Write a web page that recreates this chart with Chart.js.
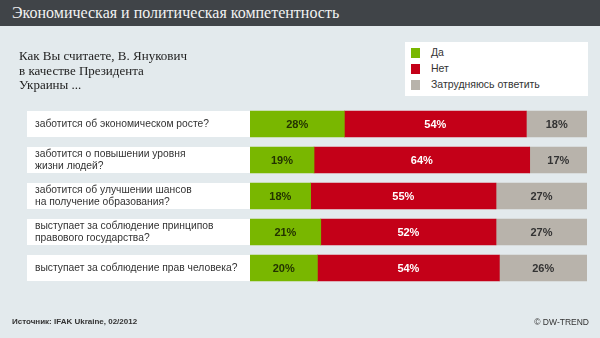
<!DOCTYPE html>
<html>
<head>
<meta charset="utf-8">
<script src="https://cdn.jsdelivr.net/npm/chart.js@4"></script>
<style>
    body { margin: 0; background: #e3eaed; }
    #wrap { position: relative; width: 600px; height: 338px; overflow: hidden; background: #e3eaed; }
    #header { position: absolute; left: 0; top: 0; width: 600px; height: 26px; background: #404448; }
    #title { position: absolute; left: 12px; top: 4px; font: 16px "Liberation Serif", serif; color: #f2f2f2; white-space: nowrap; }
    #question { position: absolute; left: 19px; top: 49px; font: 13px "Liberation Serif", serif; line-height: 14.5px; color: #222; }
    #legend { position: absolute; left: 405px; top: 42px; width: 183px; height: 54px; background: #fff; }
    .item { position: absolute; left: 6px; font: 10.5px "Liberation Sans", Arial, sans-serif; color: #333; }
    .item span { position: absolute; left: 0; top: 2px; width: 9px; height: 10px; }
    .item b { position: absolute; left: 20px; top: 0; font-weight: normal; white-space: nowrap; }
    #source { position: absolute; left: 12px; top: 317px; font: bold 8px "Liberation Sans", Arial, sans-serif; color: #333; }
    #copy { position: absolute; right: 11px; top: 317px; font: 8.5px "Liberation Sans", Arial, sans-serif; color: #333; }
    canvas { position: absolute; left: 0; top: 0; }
</style>
</head>
<body>
<div id="wrap">
    <canvas id="myChart" width="600" height="338"></canvas>
    <div id="header"><div id="title">Экономическая и политическая компетентность</div></div>
    <div id="question">Как Вы считаете, В. Янукович<br>в качестве Президента<br>Украины ...</div>
    <div id="legend"></div>
    <div id="source">Источник: IFAK Ukraine, 02/2012</div>
    <div id="copy">© DW-TREND</div>
</div>
<script>
const categories = [
    ['заботится об экономическом росте?'],
    ['заботится о повышении уровня', 'жизни людей?'],
    ['заботится об улучшении шансов', 'на получение образования?'],
    ['выступает за соблюдение принципов', 'правового государства?'],
    ['выступает за соблюдение прав человека?']
];
const seriesNames = ['Да', 'Нет', 'Затрудняюсь ответить'];
const yes = [28, 19, 18, 21, 20];
const no = [54, 64, 55, 52, 54];
const dontKnow = [18, 17, 27, 27, 26];

const colors = ['#79b700', '#c40018', '#b8b3ab'];
const valueColors = ['#233300', '#ffffff', '#333333'];

// legend in html
const legendBox = document.getElementById('legend');
seriesNames.forEach(function (name, i) {
    const item = document.createElement('div');
    item.className = 'item';
    item.style.top = (4 + i * 16) + 'px';
    item.innerHTML = '<span style="background:' + colors[i] + '"></span><b>' + name + '</b>';
    legendBox.appendChild(item);
});

const rowLabels = {
    id: 'rowLabels',
    beforeDatasetsDraw(chart) {
        const ctx = chart.ctx;
        const yScale = chart.scales.y;
        ctx.save();
        ctx.font = '10.3px "Liberation Sans", Arial, sans-serif';
        ctx.textBaseline = 'middle';
        categories.forEach(function (lines, i) {
            const y = yScale.getPixelForValue(i);
            ctx.fillStyle = '#ffffff';
            ctx.fillRect(27, y - 13, chart.chartArea.left - 27, 26);
            ctx.fillStyle = '#333333';
            const start = y - (lines.length - 1) * 6;
            lines.forEach(function (line, j) {
                ctx.fillText(line, 35, start + j * 12);
            });
        });
        ctx.restore();
    },
    afterDatasetsDraw(chart) {
        const ctx = chart.ctx;
        ctx.save();
        ctx.font = 'bold 11px "Liberation Sans", Arial, sans-serif';
        ctx.textAlign = 'center';
        ctx.textBaseline = 'middle';
        chart.data.datasets.forEach(function (ds, d) {
            chart.getDatasetMeta(d).data.forEach(function (bar, i) {
                const left = Math.min(bar.x, bar.base);
                const right = Math.max(bar.x, bar.base);
                ctx.fillStyle = valueColors[d];
                ctx.fillText(ds.data[i] + '%', (left + right) / 2, bar.y + 1);
            });
        });
        ctx.restore();
    }
};

new Chart(document.getElementById('myChart'), {
    type: 'bar',
    data: {
        labels: categories,
        datasets: [
            { label: seriesNames[0], data: yes, backgroundColor: colors[0] },
            { label: seriesNames[1], data: no, backgroundColor: colors[1] },
            { label: seriesNames[2], data: dontKnow, backgroundColor: colors[2] }
        ]
    },
    options: {
        indexAxis: 'y',
        responsive: false,
        animation: false,
        devicePixelRatio: 1,
        layout: { padding: { left: 250, right: 13, top: 106, bottom: 52 } },
        datasets: { bar: { barThickness: 26, borderWidth: 0 } },
        scales: {
            x: { stacked: true, min: 0, max: 100, display: false },
            y: { stacked: true, display: false }
        },
        plugins: { legend: { display: false }, tooltip: { enabled: false } }
    },
    plugins: [rowLabels]
});
</script>
</body>
</html>
